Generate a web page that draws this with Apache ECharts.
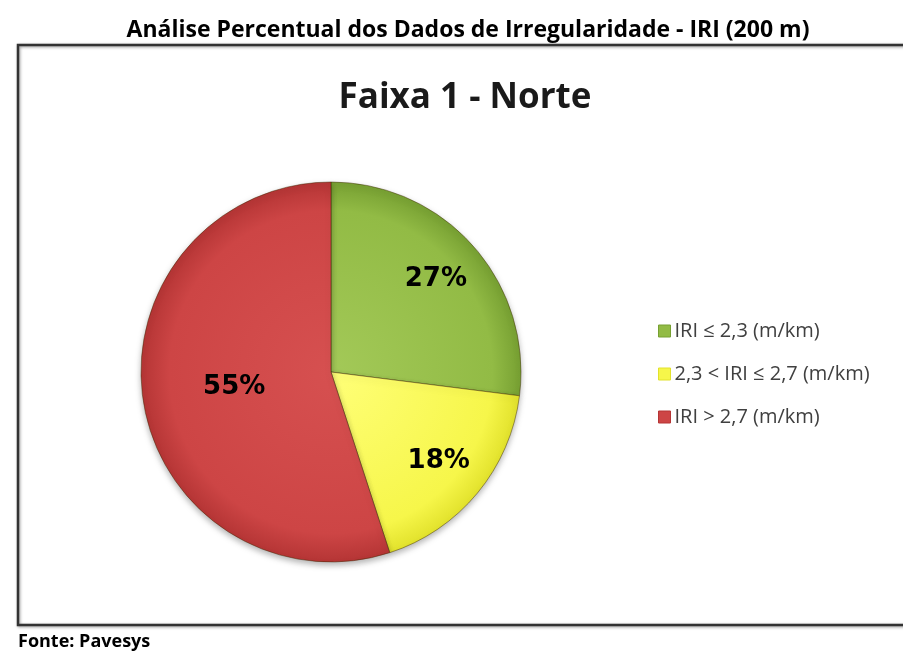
<!DOCTYPE html>
<html>
<head>
<meta charset="utf-8">
<script src="https://cdn.jsdelivr.net/npm/echarts@6/dist/echarts.min.js"></script>
<style>
  html, body { margin: 0; padding: 0; background: #fff; }
  #chart { width: 903px; height: 651px; }
</style>
</head>
<body>
<div id="chart"></div>
<script>
const categories = ['IRI ≤ 2,3 (m/km)', '2,3 < IRI ≤ 2,7 (m/km)', 'IRI > 2,7 (m/km)']
const percentages = [27, 18, 55]

// light, mid, dark shade per slice
const sliceColors = [
  ['#a3c958', '#92bb45', '#77a032'],
  ['#ffff78', '#f6f64a', '#e2e22c'],
  ['#d65050', '#cd4545', '#b53535']
]

const pieCenter = [331, 372]
const pieRadius = 190

const chart = echarts.init(document.getElementById('chart'))

function shade(c) {
  return {
    type: 'radial',
    x: pieCenter[0],
    y: pieCenter[1],
    r: pieRadius,
    global: true,
    colorStops: [
      { offset: 0, color: c[0] },
      { offset: 0.85, color: c[1] },
      { offset: 1, color: c[2] }
    ]
  }
}

const pieData = categories.map((name, i) => ({
  name,
  value: percentages[i],
  itemStyle: { color: shade(sliceColors[i]) }
}))

const labelStyle = {
  show: true,
  position: 'inside',
  fontFamily: 'DejaVu Sans',
  fontWeight: 'bold',
  fontSize: 26,
  color: '#000'
}

chart.setOption({
  animation: false,
  graphic: [
    {
      type: 'text',
      x: 468,
      y: 30,
      style: {
        text: 'Análise Percentual dos Dados de Irregularidade - IRI (200 m)',
        font: 'bold 23px "Open Sans"',
        fill: '#000',
        align: 'center',
        verticalAlign: 'middle'
      }
    },
    {
      type: 'rect',
      shape: { x: 18, y: 45, width: 900, height: 580 },
      style: {
        fill: 'none',
        stroke: '#333',
        lineWidth: 2.5,
        shadowBlur: 3,
        shadowColor: 'rgba(0,0,0,0.4)',
        shadowOffsetX: 1,
        shadowOffsetY: 1
      },
      z: -1
    },
    {
      type: 'text',
      x: 465,
      y: 98,
      style: {
        text: 'Faixa 1 - Norte',
        font: 'bold 35px "Open Sans"',
        fill: '#1a1a1a',
        align: 'center',
        verticalAlign: 'middle'
      }
    },
    {
      type: 'text',
      x: 18,
      y: 642,
      style: {
        text: 'Fonte: Pavesys',
        font: 'bold 18px "Open Sans"',
        fill: '#000',
        align: 'left',
        verticalAlign: 'middle'
      }
    }
  ],
  legend: {
    orient: 'vertical',
    left: 653,
    top: 316,
    icon: 'rect',
    itemWidth: 12,
    itemHeight: 12,
    itemGap: 23,
    textStyle: { fontFamily: 'Open Sans', fontSize: 20, color: '#404040', padding: [0, 0, 0, -1] },
    data: categories.map((name, i) => ({
      name,
      itemStyle: { color: sliceColors[i][1], borderColor: sliceColors[i][2], borderWidth: 1 }
    }))
  },
  series: [
    {
      type: 'pie',
      center: pieCenter,
      radius: pieRadius,
      startAngle: 90,
      clockwise: true,
      silent: true,
      data: pieData,
      itemStyle: {
        borderColor: 'rgba(60,40,0,0.45)',
        borderWidth: 1,
        shadowBlur: 6,
        shadowOffsetY: 3,
        shadowColor: 'rgba(0,0,0,0.3)'
      },
      // big slice keeps its label at half radius
      label: { ...labelStyle, formatter: (p) => (p.dataIndex === 2 ? p.value + '%' : '') },
      labelLine: { show: false }
    },
    {
      // transparent carrier so the small slices get their labels further out
      type: 'pie',
      center: pieCenter,
      radius: pieRadius * 1.44,
      startAngle: 90,
      clockwise: true,
      silent: true,
      data: categories.map((name, i) => ({ name, value: percentages[i] })),
      itemStyle: { color: 'transparent' },
      label: { ...labelStyle, formatter: (p) => (p.dataIndex === 2 ? '' : p.value + '%') },
      labelLine: { show: false },
      legendHoverLink: false,
      z: 3
    }
  ]
})
</script>
</body>
</html>
